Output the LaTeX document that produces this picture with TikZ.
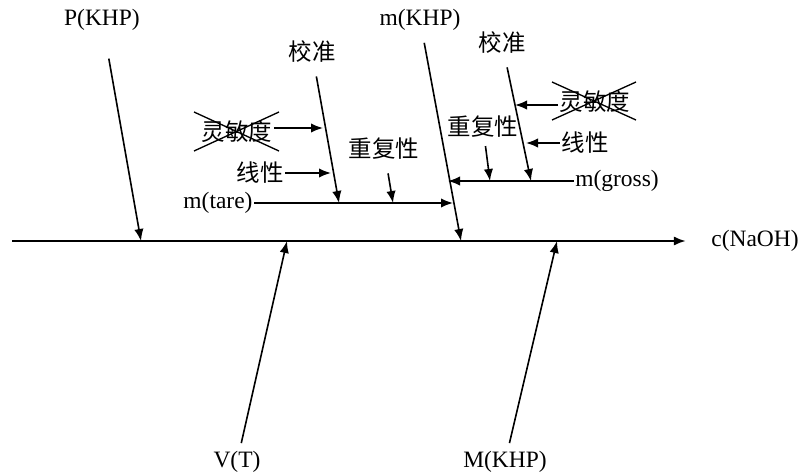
\documentclass[tikz,border=0pt]{standalone}
\usepackage{fontspec}
\setmainfont{Liberation Serif}
\newfontfamily\cjk{Noto Sans CJK SC}
\usetikzlibrary{arrows.meta,calc}
\tikzset{
  lbl/.style={inner xsep=1pt, inner ysep=6pt, font=\fontsize{17.6}{20}\selectfont},
  zh/.style={lbl, font=\fontsize{17.6}{20}\selectfont\cjk},
  arr/.style={line width=1.2pt, -{Latex[length=9pt,width=7pt]}}
}
\begin{document}
\begin{tikzpicture}[x=0.75pt,y=-0.75pt]
\useasboundingbox (0,0) rectangle (801,475);
% main line
\coordinate (start) at (12,241);
\node[lbl] (naoh) at (755,241) {c(NaOH)};
\draw[arr, line width=1.5pt, shorten >=18pt] (start) -- (naoh.west);
% main branches
\node[lbl] (pkhp) at (102,20) {P(KHP)};
\node[lbl] (mkhp) at (420,20) {m(KHP)};
\node[lbl] (vt) at (237,462) {V(T)};
\node[lbl] (Mkhp) at (505,462) {M(KHP)};
\coordinate (pend) at (141,241);
\coordinate (mend) at (461,241);
\coordinate (vend) at (287,241);
\coordinate (Mend) at (557,241);
\draw[arr, shorten <=15pt] (pkhp) -- (pend);
\draw[arr, shorten <=3pt] (mkhp) -- (mend);
\draw[arr] (vt) -- (vend);
\draw[arr] (Mkhp) -- (Mend);
% tare side
\node[lbl] (tare) at (218,203) {m(tare)};
\coordinate (tend) at (453,203);
\draw[arr] (tare) -- (tend);
\node[zh] (cal1) at (312,52) {校准};
\coordinate (c1end) at (339,203);
\draw[arr, shorten <=4pt] (cal1) -- (c1end);
\node[zh] (sens1) at (237,132) {灵敏度};
\coordinate (s1end) at (323,128);
\draw[arr] (sens1.east |- s1end) -- (s1end);
\draw[line width=1pt] ($(sens1)+(-43,-20)$) -- ($(sens1)+(42,19)$);
\draw[line width=1pt] ($(sens1)+(-43,19)$) -- ($(sens1)+(42,-20)$);
\node[zh] (lin1) at (260,173) {线性};
\coordinate (l1end) at (331,173);
\draw[arr] (lin1) -- (l1end);
\node[zh] (rep1) at (384,149) {重复性};
\coordinate (r1end) at (393,203);
\draw[arr, shorten <=4pt] (rep1) -- (r1end);
% gross side
\node[lbl] (gross) at (617,181) {m(gross)};
\coordinate (gend) at (448,181);
\draw[arr] (gross) -- (gend);
\node[zh] (cal2) at (502,43) {校准};
\coordinate (c2end) at (531,181);
\draw[arr, shorten <=4pt] (cal2) -- (c2end);
\node[zh] (sens2) at (595,102) {灵敏度};
\coordinate (s2end) at (515,105);
\draw[arr] (sens2.west |- s2end) -- (s2end);
\draw[line width=1pt] ($(sens2)+(-43,-20)$) -- ($(sens2)+(41,18)$);
\draw[line width=1pt] ($(sens2)+(-43,18)$) -- ($(sens2)+(41,-20)$);
\node[zh] (lin2) at (585,143) {线性};
\coordinate (l2end) at (526,143);
\draw[arr] (lin2) -- (l2end);
\node[zh] (rep2) at (483,127) {重复性};
\coordinate (r2end) at (490,181);
\draw[arr] (rep2) -- (r2end);
\end{tikzpicture}
\end{document}
